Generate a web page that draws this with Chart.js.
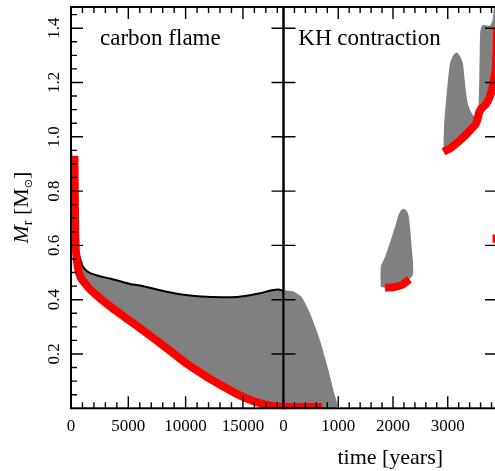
<!DOCTYPE html>
<html>
<head>
<meta charset="utf-8">
<script src="https://cdn.jsdelivr.net/npm/chart.js@4.4.1/dist/chart.umd.min.js"></script>
<style>
  html, body { margin: 0; padding: 0; background: #fff; overflow: hidden; }
  #wrap { position: relative; width: 495px; height: 471px; overflow: hidden; }
  canvas { position: absolute; top: 0; }
  #flame { left: 0; }
  #kh { left: 240px; }
</style>
</head>
<body>
<div id="wrap">
  <canvas id="flame" width="290" height="471"></canvas>
  <canvas id="kh" width="270" height="471"></canvas>
</div>
<script>
// ---- carbon flame panel (time in years, M_r in Msun)
const flameRedTime = [300, 320, 345, 380, 450, 640, 1220, 2380, 3840, 5440, 7040, 8640, 10240, 11840, 13300, 14500, 16000, 17400, 18540];
const flameRedMass = [0.93, 0.85, 0.74, 0.63, 0.57, 0.51, 0.46, 0.411, 0.362, 0.313, 0.263, 0.212, 0.16, 0.116, 0.08, 0.052, 0.025, 0.01, 0.005];
const flameTopTime = [700, 1000, 1400, 2200, 3400, 5150, 6020, 8050, 9500, 11000, 13290, 14500, 15620, 16500, 17365, 18090, 18540];
const flameTopMass = [0.565, 0.525, 0.505, 0.49, 0.478, 0.458, 0.452, 0.432, 0.42, 0.413, 0.409, 0.41, 0.416, 0.424, 0.433, 0.438, 0.432];
const flameEdgeTime = [0, 0, 150];
const flameEdgeMass = [0.93, 1.01, 0.93];

// ---- KH contraction panel
const kh1Time = [0, 180, 330, 485, 667, 820, 910, 975, 0];
const kh1Mass = [0.436, 0.43, 0.41, 0.35, 0.25, 0.141, 0.067, 0, 0];
const kh1RedTime = [0, 700];
const kh1RedMass = [0.005, 0.005];

const kh2Time = [1777, 1777, 1856, 1960, 2057, 2100, 2150, 2190, 2240, 2282, 2305, 2335, 2362, 2370, 2362, 2313, 2180, 2000, 1856, 1777];
const kh2Mass = [0.448, 0.521, 0.558, 0.62, 0.681, 0.712, 0.73, 0.735, 0.73, 0.712, 0.68, 0.61, 0.55, 0.51, 0.49, 0.479, 0.455, 0.446, 0.444, 0.448];
const kh2RedTime = [1856, 2008, 2161, 2300];
const kh2RedMass = [0.444, 0.446, 0.454, 0.475];

const kh3Time = [2922, 2935, 2971, 3010, 3044, 3100, 3166, 3230, 3276, 3310, 3336, 3370, 3409, 3460, 3501, 3540, 3565, 3580, 3592, 3620, 3653, 3720, 3775, 3820, 3850, 3900, 3900, 3893, 3875, 3840, 3790, 3700, 3620, 3575, 3530, 3440, 3320, 3196, 3050, 2922];
const kh3Mass = [0.945, 1.05, 1.136, 1.22, 1.271, 1.30, 1.31, 1.295, 1.271, 1.21, 1.16, 1.12, 1.099, 1.08, 1.074, 1.09, 1.123, 1.25, 1.381, 1.408, 1.412, 1.41, 1.41, 1.43, 1.48, 1.48, 1.40, 1.32, 1.25, 1.205, 1.16, 1.12, 1.105, 1.09, 1.055, 1.031, 1.005, 0.982, 0.958, 0.945];
const kh3RedTime = [2922, 3050, 3196, 3320, 3440, 3530, 3575, 3620, 3700, 3790, 3840, 3875, 3893, 3900];
const kh3RedMass = [0.945, 0.958, 0.982, 1.005, 1.031, 1.055, 1.09, 1.105, 1.12, 1.16, 1.205, 1.25, 1.32, 1.40];
const kh4RedTime = [3892, 3892];
const kh4RedMass = [0.61, 0.64];

// ---- axes
const flameTicks = [0, 5000, 10000, 15000];
const khTicks = [0, 1000, 2000, 3000];
const massTicks = [0.2, 0.4, 0.6, 0.8, 1.0, 1.2, 1.4];
const flameMax = 18540;
const khMax = 3900;
const massMax = 1.478;

const serif = '"Liberation Serif", "Times New Roman", serif';
const grey = '#808080';
const red = '#ff0000';

const pts = (xs, ys) => xs.map((x, i) => ({x: x, y: ys[i]}));

const shape = (data, order) => ({data, fill: 'shape', backgroundColor: grey, borderWidth: 0, pointRadius: 0, tension: 0.2, order, clip: 0});
const curve = (data, color, width, order, mono) => ({
  data, fill: false, borderColor: color, borderWidth: width, pointRadius: 0,
  cubicInterpolationMode: mono ? 'monotone' : 'default', tension: 0, order, clip: 0
});

// ticks pointing inside + frame + panel label
const frameTicks = {
  id: 'frameTicks',
  afterDatasetsDraw(chart, args, opts) {
    const {ctx, chartArea: a, scales: {x, y}} = chart;
    ctx.save();
    ctx.strokeStyle = '#000';
    ctx.lineWidth = 1.4;
    ctx.beginPath();
    for (let v = 0; v <= x.max; v += opts.xMinor) {
      const px = x.getPixelForValue(v);
      const len = v % opts.xMajor === 0 ? 12 : 6;
      ctx.moveTo(px, a.bottom); ctx.lineTo(px, a.bottom - len);
      ctx.moveTo(px, a.top); ctx.lineTo(px, a.top + len);
    }
    for (let i = 1; i * 0.05 <= y.max; i++) {
      const py = y.getPixelForValue(i * 0.05);
      const major = i % 4 === 0;
      if (major || opts.yMinor) { ctx.moveTo(a.left, py); ctx.lineTo(a.left + (major ? 12 : 6), py); }
      if (major) { ctx.moveTo(a.right, py); ctx.lineTo(a.right - 12, py); }
    }
    ctx.stroke();
    ctx.lineWidth = 2;
    ctx.strokeRect(a.left, a.top, a.right - a.left, a.bottom - a.top);
    ctx.fillStyle = '#000';
    ctx.font = '23px ' + serif;
    ctx.fillText(opts.label, a.left + opts.labelDx, a.top + 37.5);
    ctx.restore();
  }
};

// M_r [M_sun] with subscripts
const massTitle = {
  id: 'massTitle',
  afterDraw(chart) {
    const {ctx, chartArea: a} = chart;
    const parts = [
      ['M', 'italic 22px ' + serif, 0],
      ['r', '14px ' + serif, 4],
      [' [M', '22px ' + serif, 0],
      ['\u2299', '11px "DejaVu Sans"', 4],
      [']', '22px ' + serif, 0]
    ];
    ctx.save();
    ctx.translate(28, (a.top + a.bottom) / 2);
    ctx.rotate(-Math.PI / 2);
    let w = 0;
    parts.forEach(p => { ctx.font = p[1]; w += ctx.measureText(p[0]).width; });
    let cx = -w / 2;
    ctx.fillStyle = '#000';
    parts.forEach(p => { ctx.font = p[1]; ctx.fillText(p[0], cx, p[2]); cx += ctx.measureText(p[0]).width; });
    ctx.restore();
  }
};

const timeAxis = (max, ticks, title) => ({
  type: 'linear', min: 0, max: max,
  grid: {display: false, drawTicks: false}, border: {display: false},
  afterBuildTicks: s => { s.ticks = ticks.map(v => ({value: v})); },
  afterFit: s => { s.height = 471 - 408.3; s.paddingLeft = 0; s.paddingRight = 0; },
  ticks: {color: '#000', font: {family: serif, size: 17}, padding: 8, minRotation: 0, maxRotation: 0, autoSkip: false, callback: v => String(v)},
  title: title ? {display: true, text: title, color: '#000', font: {family: serif, size: 22}, padding: 0} : {display: false}
});

const massAxis = (width, labels) => ({
  type: 'linear', min: 0, max: massMax,
  grid: {display: false, drawTicks: false}, border: {display: false},
  afterBuildTicks: s => { s.ticks = massTicks.map(v => ({value: v})); },
  afterFit: s => { s.width = width; s.paddingTop = 0; s.paddingBottom = 0; },
  ticks: {display: labels, color: '#000', font: {family: serif, size: 17}, padding: 6, minRotation: 90, maxRotation: 90, crossAlign: 'center', autoSkip: false, callback: v => v.toFixed(1)}
});

new Chart('flame', {
  type: 'line',
  data: {
    datasets: [
      curve(pts(flameRedTime, flameRedMass), red, 8, 0, true),
      curve(pts(flameTopTime, flameTopMass), '#000', 2, 1, true),
      shape(pts(flameTopTime, flameTopMass).concat(pts(flameRedTime, flameRedMass).filter(p => p.x >= 450).reverse()), 2),
      shape(pts(flameEdgeTime, flameEdgeMass), 3)
    ]
  },
  options: {
    responsive: false, animation: false, devicePixelRatio: 1,
    layout: {padding: {left: 0, top: 7, right: 6.5, bottom: 0}},
    plugins: {legend: {display: false}, tooltip: {enabled: false},
      frameTicks: {xMinor: 1000, xMajor: 5000, yMinor: true, label: 'carbon flame', labelDx: 29}},
    scales: {x: timeAxis(flameMax, flameTicks, null), y: massAxis(71, true)}
  },
  plugins: [frameTicks, massTitle]
});

new Chart('kh', {
  type: 'line',
  data: {
    datasets: [
      curve(pts(kh1RedTime, kh1RedMass), red, 8, 0, false),
      curve(pts(kh2RedTime, kh2RedMass), red, 8, 0, true),
      curve(pts(kh3RedTime, kh3RedMass), red, 8, 0, true),
      curve(pts(kh4RedTime, kh4RedMass), red, 8, 0, false),
      shape(pts(kh1Time, kh1Mass), 2),
      shape(pts(kh2Time, kh2Mass), 2),
      shape(pts(kh3Time, kh3Mass), 2)
    ]
  },
  options: {
    responsive: false, animation: false, devicePixelRatio: 1,
    layout: {padding: {left: 0, top: 7, right: 13, bottom: 0}},
    plugins: {legend: {display: false}, tooltip: {enabled: false},
      frameTicks: {xMinor: 200, xMajor: 1000, yMinor: false, label: 'KH contraction', labelDx: 14.8}},
    scales: {x: timeAxis(khMax, khTicks, 'time [years]'), y: massAxis(43.5, false)}
  },
  plugins: [frameTicks]
});
</script>
</body>
</html>
